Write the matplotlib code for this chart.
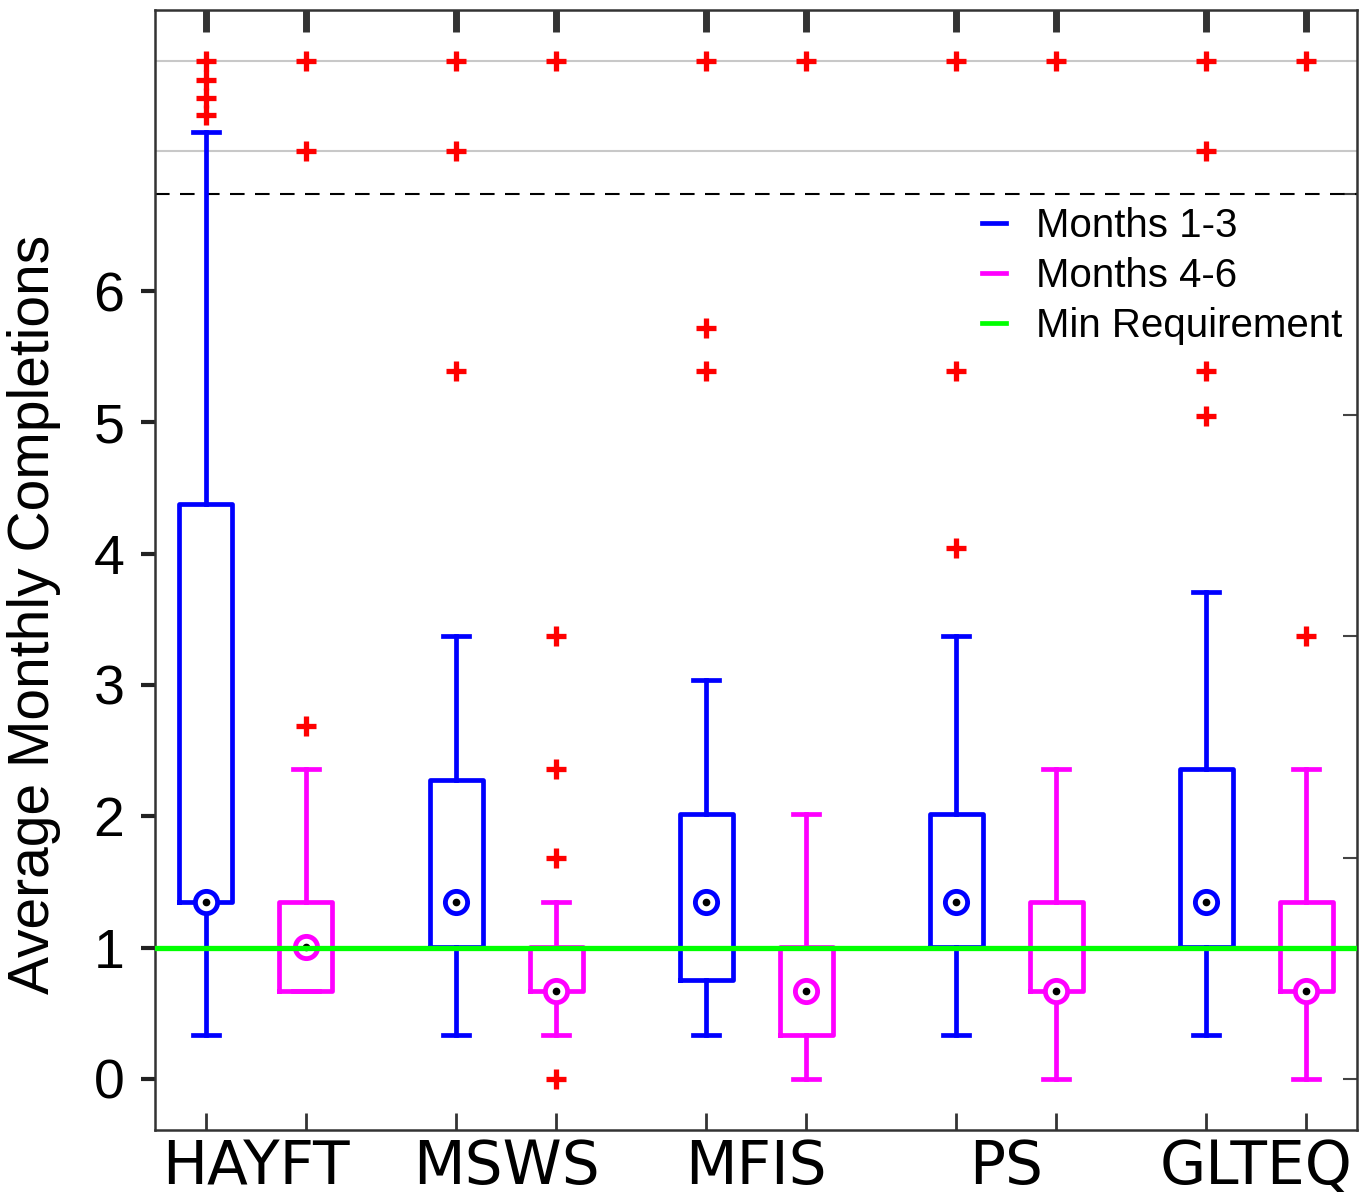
import matplotlib
matplotlib.use("Agg")
import matplotlib.pyplot as plt
from matplotlib.lines import Line2D
import numpy as np

# data (upper band above the dashed line is compressed)
groups = ['HAYFT', 'MSWS', 'MFIS', 'PS', 'GLTEQ']

m13_lo = [0.335, 0.335, 0.335, 0.335, 0.335]
m13_q1 = [1.347, 1.005, 0.753, 1.005, 1.005]
m13_med = [1.347, 1.347, 1.347, 1.347, 1.347]
m13_q3 = [4.38, 2.275, 2.02, 2.02, 2.36]
m13_hi = [7.21, 3.37, 3.04, 3.37, 3.71]
m13_out = [[7.34, 7.47, 7.61, 7.75], [5.39, 7.07, 7.75], [5.39, 5.72, 7.75],
           [4.04, 5.39, 7.75], [5.05, 5.39, 7.07, 7.75]]

m46_lo = [0.67, 0.335, 0.0, 0.0, 0.0]
m46_q1 = [0.67, 0.67, 0.335, 0.67, 0.67]
m46_med = [1.005, 0.67, 0.67, 0.67, 0.67]
m46_q3 = [1.347, 1.005, 1.005, 1.347, 1.347]
m46_hi = [2.36, 1.347, 2.02, 2.36, 2.36]
m46_out = [[2.69, 7.07, 7.75], [0.0, 1.68, 2.36, 3.37, 7.75], [7.75], [7.75], [3.37, 7.75]]

min_req = 1.0
compress_line = 6.74
band_lines = [7.07, 7.75]
right_ticks = [0, 1.685, 3.37, 5.055, 6.74]

blue = '#0000ff'
mag = '#ff00ff'

fig = plt.figure(figsize=(13.71, 11.99), dpi=100)
ax = fig.add_axes([0.113, 0.0575, 0.877, 0.934])

pos13 = np.arange(5) * 2.5
pos46 = pos13 + 1.0


def stats(lo, q1, med, q3, hi, out):
    return [dict(whislo=a, q1=b, med=c, q3=d, whishi=e, fliers=f)
            for a, b, c, d, e, f in zip(lo, q1, med, q3, hi, out)]


for st, pos, col in [(stats(m13_lo, m13_q1, m13_med, m13_q3, m13_hi, m13_out), pos13, blue),
                     (stats(m46_lo, m46_q1, m46_med, m46_q3, m46_hi, m46_out), pos46, mag)]:
    lw = 3.4
    ax.bxp(st, positions=pos, widths=0.53, showfliers=True,
           boxprops=dict(color=col, linewidth=lw),
           whiskerprops=dict(color=col, linewidth=lw, linestyle='-'),
           capprops=dict(color=col, linewidth=lw),
           capwidths=0.26,
           medianprops=dict(linewidth=0),
           flierprops=dict(marker='+', markeredgecolor='red', markersize=14,
                           markeredgewidth=3.8, linestyle='none'),
           zorder=3)
    meds = [s['med'] for s in st]
    ax.plot(pos, meds, 'o', ms=16, mfc='white', mec=col, mew=3.5, zorder=4, ls='none')
    ax.plot(pos, meds, 'o', ms=4.5, color='black', zorder=5, ls='none')

ax.axhline(min_req, color='#00ff00', lw=3.8, zorder=6)
ax.axhline(compress_line, color='black', lw=1.5, dashes=(7, 5), zorder=2)
for y in band_lines:
    ax.axhline(y, color='#c8c8c8', lw=1.5, zorder=1)

ax.set_xlim(-0.51, 11.51)
ax.set_ylim(-0.39, 8.14)

# x axis: group labels, box ticks top and bottom
centers = pos13 + 0.5
ax.set_xticks(centers)
ax.set_xticklabels(groups, fontsize=43, family='DejaVu Sans')
ax.tick_params(axis='x', which='major', length=0, pad=6)
ax.set_xticks(np.sort(np.concatenate([pos13, pos46])), minor=True)
ax.tick_params(axis='x', which='minor', direction='in', length=12, width=2,
               color='#333333', bottom=True, top=False)
top = ax.secondary_xaxis('top')
top.set_xticks(np.sort(np.concatenate([pos13, pos46])))
top.set_xticklabels([])
top.tick_params(direction='in', length=16, width=5, color='#333333')
top.spines['top'].set_visible(False)

ax.set_yticks(range(7))
ax.set_yticklabels([str(i) for i in range(7)], fontsize=40, family='Liberation Sans')
ax.tick_params(axis='y', direction='out', length=10, width=3, color='#222222', pad=12)
right = ax.secondary_yaxis('right')
right.set_yticks(right_ticks)
right.set_yticklabels([])
right.tick_params(direction='in', length=10, width=1.5, color='#444444')
right.spines['right'].set_visible(False)

ax.set_ylabel('Average Monthly Completions', fontsize=41, family='Liberation Sans')
ax.yaxis.set_label_coords(-0.078, 0.46)

for s in ax.spines.values():
    s.set_color('#333333')
    s.set_linewidth(1.8)

handles = [Line2D([], [], color=blue, lw=3.4),
           Line2D([], [], color=mag, lw=3.4),
           Line2D([], [], color='#00ff00', lw=3.4)]
ax.legend(handles, ['Months 1-3', 'Months 4-6', 'Min Requirement'],
          loc='upper right', bbox_to_anchor=(1.018, 0.8565), frameon=False,
          handlelength=0.6, handletextpad=0.75, labelspacing=0.3,
          prop=dict(family='Liberation Sans', size=29))

fig.savefig('out.png', dpi=100)
